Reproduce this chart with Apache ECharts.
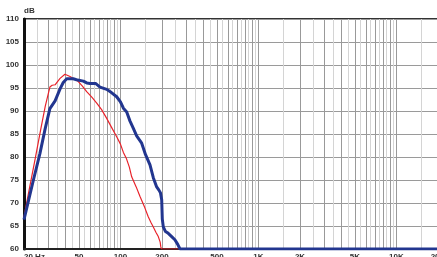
<!DOCTYPE html>
<html>
<head>
    <meta charset="utf-8">
    <title>Frequency response</title>
    <script src="https://cdn.jsdelivr.net/npm/echarts@6/dist/echarts.min.js"></script>
</head>
<body style="margin:0">
    <div id="main" style="width: 437px;height:257px;"></div>
    <script type="text/javascript">
// frequency grid lines (Hz), labels shown only on some of them
var gridFreqs = [20, 25, 30, 35, 40, 45, 50, 55, 60, 65, 70, 75, 80, 85, 90, 95, 100,
    150, 200, 250, 300, 350, 400, 450, 500, 550, 600, 650, 700, 750, 800, 850, 900, 950, 1000,
    1500, 2000, 2500, 3000, 3500, 4000, 4500, 5000, 5500, 6000, 6500, 7000, 7500, 8000, 8500, 9000, 9500, 10000,
    15000, 20000];
var tickLabels = { 20: '20 Hz', 50: '50', 100: '100', 200: '200', 500: '500', 1000: '1K',
    2000: '2K', 5000: '5K', 10000: '10K', 20000: '20K' };

// red curve [Hz, dB]
var redCurve = [[20, 67], [22, 73.5], [24, 79.3], [26.4, 85.9], [28.5, 91], [30.8, 95.2], [32, 95.6],
    [33.6, 95.7], [35, 96.4], [36.5, 97.1], [39.6, 98.0], [43.1, 97.5], [46, 97.0], [49.5, 96.4],
    [53, 95.4], [56.9, 94.2], [62, 93.0], [67.3, 91.7], [73, 90.3], [79.5, 88.4], [86, 86.5],
    [93.9, 84.4], [100, 82.8], [105, 81.0], [110, 79.8], [116, 77.8], [120.6, 75.7], [130, 73.5],
    [138.6, 71.4], [150, 69.0], [159, 67.0], [166, 65.8], [173, 64.8], [181, 63.6], [188, 62.7],
    [194, 61.5], [196, 60.5], [198, 60], [20000, 60]];

// blue curve [Hz, dB]
var blueCurve = [[20, 66.4], [23.4, 75.0], [26.1, 80.8], [28.4, 86.0], [30.8, 90.5], [33.6, 92.2],
    [36.5, 94.8], [38.5, 96.2], [40.8, 97.0], [45.5, 97.0], [48, 96.8], [53.8, 96.5], [57, 96.1],
    [60.2, 96.0], [66, 96.0], [71.1, 95.2], [79.5, 94.7], [86, 94.0], [93.9, 93.1], [100, 92.0],
    [105, 90.6], [111, 89.8], [117.3, 87.8], [124, 86.2], [131, 84.6], [142.5, 83.0], [152, 80.5],
    [163.7, 78.3], [173, 75.5], [183, 73.5], [190, 72.8], [195, 72.2], [199, 70.7], [201, 66.5],
    [204.4, 64.8], [212, 63.8], [222, 63.4], [235, 62.7], [248, 62.0], [260, 61.0], [270, 60],
    [20000, 60]];

var labelFont = "'Liberation Sans Narrow', 'Liberation Sans', sans-serif";

var myChart = echarts.init(document.getElementById('main'));
var option = {
    animation: false,
    grid: {
        left: 24, top: 19, right: -1, bottom: 8,
        outerBoundsMode: 'none',
        show: true, borderColor: '#333', borderWidth: 2
    },
    xAxis: {
        type: 'log',
        logBase: 10,
        min: 20,
        max: 20000,
        axisLine: { show: true, onZero: false, lineStyle: { color: '#222', width: 2 } },
        axisTick: { show: false, customValues: gridFreqs },
        axisLabel: {
            customValues: [20, 50, 100, 200, 500, 1000, 2000, 5000, 10000, 20000],
            formatter: function (v) { return tickLabels[Math.round(v)] || ''; },
            alignMinLabel: 'left',
            alignMaxLabel: 'center',
            margin: 4,
            fontSize: 8,
            fontWeight: 'bold',
            fontFamily: labelFont,
            color: '#333'
        },
        splitLine: {
            show: true,
            lineStyle: { color: ['#999', '#d4d4d4'], width: 1 }
        }
    },
    yAxis: {
        type: 'value',
        min: 60,
        max: 110,
        interval: 5,
        name: 'dB',
        nameLocation: 'end',
        nameGap: 3,
        nameTextStyle: { align: 'left', fontSize: 8, fontWeight: 'bold', fontFamily: labelFont, color: '#333' },
        axisLine: { show: true, lineStyle: { color: '#111', width: 3 } },
        axisTick: { show: false },
        axisLabel: { margin: 5, fontSize: 8, fontWeight: 'bold', fontFamily: labelFont, color: '#333' },
        splitLine: { lineStyle: { color: '#9a9a9a', width: 1 } }
    },
    series: [
        {
            type: 'line',
            data: redCurve,
            showSymbol: false,
            lineStyle: { color: '#e8232b', width: 1.2 },
            z: 3
        },
        {
            type: 'line',
            data: blueCurve,
            showSymbol: false,
            lineStyle: { color: '#22368f', width: 3 },
            z: 4
        }
    ]
};
myChart.setOption(option);
    </script>
</body>
</html>
